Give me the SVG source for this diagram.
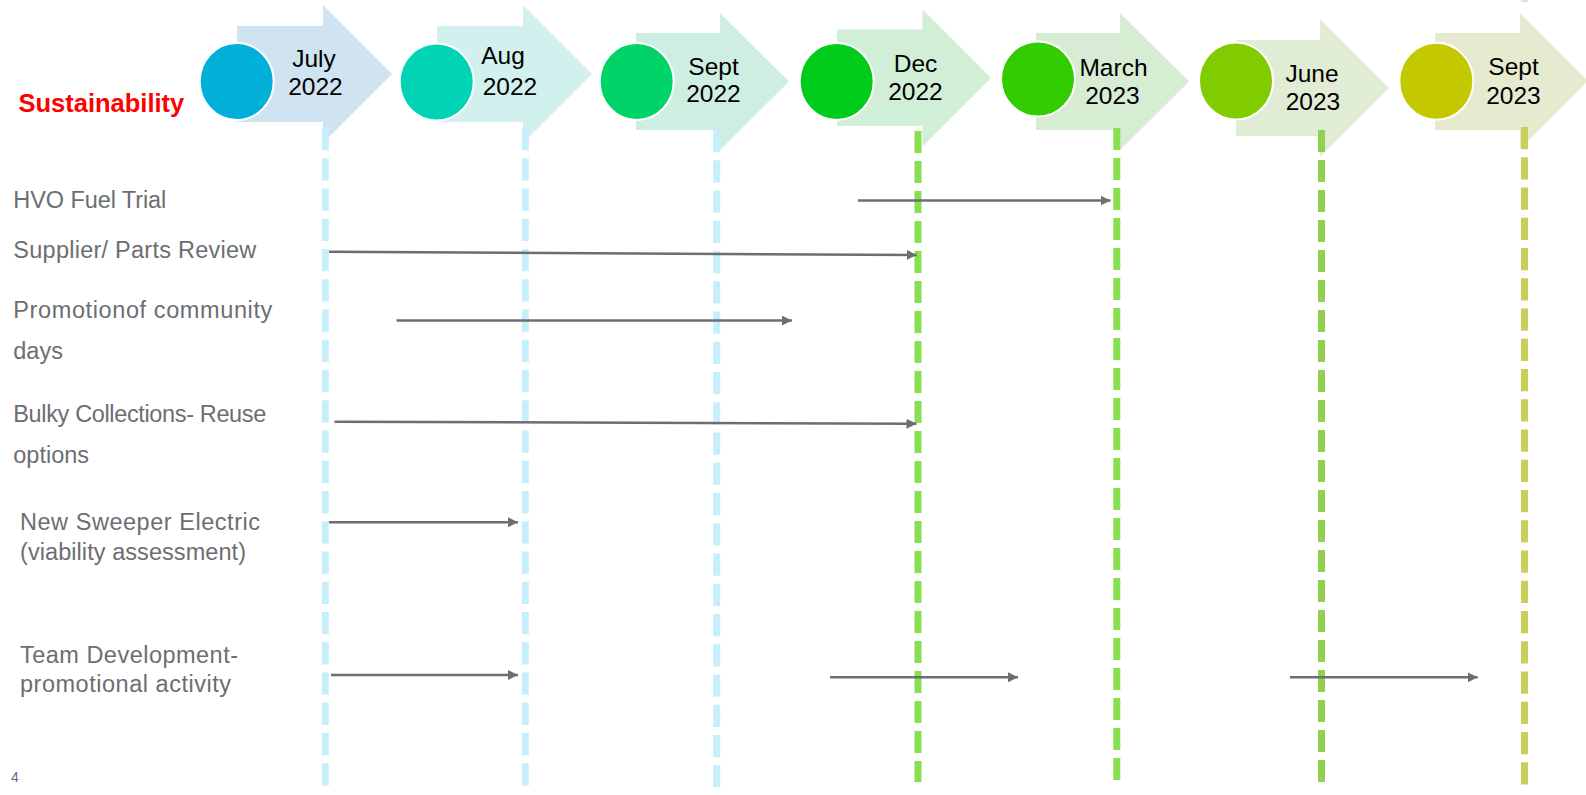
<svg xmlns="http://www.w3.org/2000/svg" width="1586" height="795" viewBox="0 0 1586 795">
<defs>
<style>
.hd{font-family:"Liberation Sans",Arial,sans-serif;font-size:24.5px;fill:#000;text-anchor:middle}
.lb{font-family:"Liberation Sans",Arial,sans-serif;font-size:23.5px;fill:#6d6e71}
.circ{stroke:#fff;stroke-width:2}
.dash{stroke-width:7;stroke-dasharray:22 8;fill:none}
.dash2{stroke-width:7;stroke-dasharray:22.3 7.95;fill:none}
.blue{stroke:#c6effb}
.green{stroke:#88e050}
.lime{stroke:#92d050}
.olive{stroke:#c8d05a}
.con{stroke:#6d6e71;stroke-width:2.5;fill:none;marker-end:url(#ah)}
</style>
<marker id="ah" markerUnits="userSpaceOnUse" markerWidth="11" markerHeight="11" refX="10" refY="5" orient="auto">
<path d="M0,0 L10,5 L0,10 z" fill="#6d6e71"/>
</marker>
</defs>
<rect width="1586" height="795" fill="#fff"/>

<text x="18.5" y="111.5" font-family="Liberation Sans,Arial,sans-serif" font-size="25.5" font-weight="bold" fill="#ff0000">Sustainability</text>

<g id="node-jul2022">
<polygon points="237,26 323,26 323,5 392,74 323,143 323,122 237,122" fill="#cfe3f0"/>
<ellipse class="circ" cx="236.7" cy="81.5" rx="37" ry="38.5" fill="#00b0d8"/>
<text class="hd" x="314" y="66.5">July</text>
<text class="hd" x="315.5" y="95">2022</text>
</g>
<g id="node-aug2022">
<polygon points="437,26 523,26 523,5 592,74 523,143 523,122 437,122" fill="#d2f0ee"/>
<ellipse class="circ" cx="436.7" cy="82" rx="37" ry="38.5" fill="#00d4b4"/>
<text class="hd" x="503" y="64">Aug</text>
<text class="hd" x="510" y="95">2022</text>
</g>
<g id="node-sep2022">
<polygon points="636,33 720,33 720,13 789,81.5 720,150 720,130 636,130" fill="#cfeee2"/>
<ellipse class="circ" cx="636.7" cy="81.5" rx="37" ry="38.5" fill="#00d468"/>
<text class="hd" x="713.5" y="75">Sept</text>
<text class="hd" x="713.5" y="101.5">2022</text>
</g>
<g id="node-dec2022">
<polygon points="837,29.5 922.5,29.5 922.5,9.5 991,78 922.5,146.5 922.5,126 837,126" fill="#d1efd7"/>
<ellipse class="circ" cx="836.7" cy="81.5" rx="37" ry="38.5" fill="#00cc1c"/>
<text class="hd" x="915.5" y="71.5">Dec</text>
<text class="hd" x="915.5" y="99.5">2022</text>
</g>
<g id="node-mar2023">
<polygon points="1036,33 1120,33 1120,13 1189,81.5 1120,150 1120,130 1036,130" fill="#d6edd3"/>
<ellipse class="circ" cx="1038" cy="79" rx="37" ry="37.5" fill="#33cc00"/>
<text class="hd" x="1113.5" y="76">March</text>
<text class="hd" x="1112.5" y="103.5">2023</text>
</g>
<g id="node-jun2023">
<polygon points="1236,40 1320,40 1320,19 1389,88 1320,157 1320,136 1236,136" fill="#e0ecd3"/>
<ellipse class="circ" cx="1236" cy="81" rx="37" ry="38.5" fill="#80cc00"/>
<text class="hd" x="1312" y="81.5">June</text>
<text class="hd" x="1313" y="109.5">2023</text>
</g>
<g id="node-sep2023">
<polygon points="1435,33 1520,33 1520,13 1588,81 1520,149 1520,130 1435,130" fill="#e6ebd0"/>
<ellipse class="circ" cx="1436.3" cy="81.3" rx="37" ry="38.5" fill="#c4c800"/>
<text class="hd" x="1513.5" y="75">Sept</text>
<text class="hd" x="1513.5" y="103.5">2023</text>
</g>

<g id="timelines">
<line class="dash2 blue" x1="325.3" y1="128" x2="325.3" y2="787"/>
<line class="dash2 blue" x1="525.3" y1="128" x2="525.3" y2="787"/>
<line class="dash2 blue" x1="716.7" y1="130" x2="716.7" y2="787"/>
<line class="dash green" x1="918" y1="131" x2="918" y2="782"/>
<line class="dash green" x1="1116.8" y1="128" x2="1116.8" y2="786"/>
<line class="dash lime" x1="1321.5" y1="130" x2="1321.5" y2="782"/>
<line class="dash2 olive" x1="1524.5" y1="127" x2="1524.5" y2="787"/>
<rect x="1521" y="0" width="7" height="2" fill="#e2e6c8"/>
</g>

<g id="labels">
<text class="lb" x="13.3" y="208" textLength="153" lengthAdjust="spacing">HVO Fuel Trial</text>
<text class="lb" x="13.3" y="258" textLength="243" lengthAdjust="spacing">Supplier/ Parts Review</text>
<text class="lb" x="13.3" y="317.5" textLength="259" lengthAdjust="spacing">Promotionof community</text>
<text class="lb" x="13.3" y="359">days</text>
<text class="lb" x="13.3" y="421.5" textLength="253" lengthAdjust="spacing">Bulky Collections- Reuse</text>
<text class="lb" x="13.3" y="463">options</text>
<text class="lb" x="20" y="530" textLength="240" lengthAdjust="spacing">New Sweeper Electric</text>
<text class="lb" x="20" y="560" textLength="226" lengthAdjust="spacing">(viability assessment)</text>
<text class="lb" x="20" y="662.5" textLength="218" lengthAdjust="spacing">Team Development-</text>
<text class="lb" x="20" y="691.5" textLength="211" lengthAdjust="spacing">promotional activity</text>
<text x="11" y="782" font-family="Liberation Sans,Arial,sans-serif" font-size="14" fill="#7060a0">4</text>
</g>

<g id="connectors">
<line class="con" x1="858" y1="200.5" x2="1110.5" y2="200.5"/>
<line class="con" x1="329" y1="251.7" x2="916.7" y2="255"/>
<line class="con" x1="396.5" y1="320.6" x2="792" y2="320.6"/>
<line class="con" x1="334.5" y1="421.7" x2="916.5" y2="423.8"/>
<line class="con" x1="329" y1="522.3" x2="518" y2="522.3"/>
<line class="con" x1="331" y1="675" x2="518" y2="675"/>
<line class="con" x1="830" y1="677.3" x2="1018" y2="677.3"/>
<line class="con" x1="1290" y1="677.3" x2="1477.7" y2="677.3"/>
</g>
</svg>
